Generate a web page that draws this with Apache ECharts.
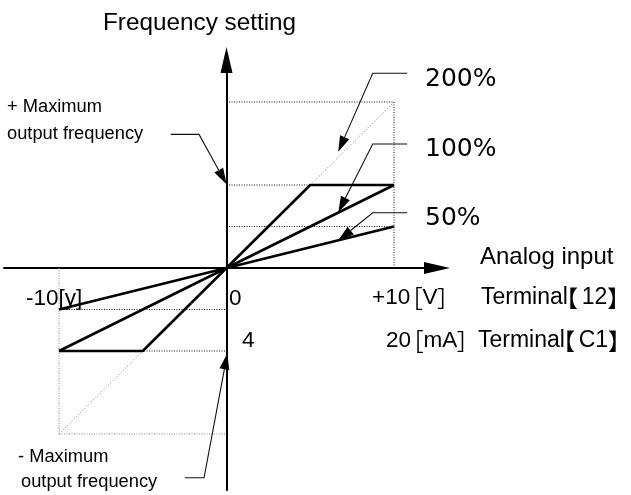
<!DOCTYPE html>
<html><head><meta charset="utf-8">
<script src="https://cdn.jsdelivr.net/npm/echarts/dist/echarts.min.js"></script>
<style>html,body{margin:0;padding:0;background:#fff}#c{width:631px;height:495px}</style>
</head><body><div id="c"></div>
<script>
// ---- data ----
const inputV = [-10, -5, 0, 5, 10];
const out200Raw = [-200, -100, 0, 100, 200];
const out200Clamped = [-100, -100, 0, 100, 100];
const out100 = [-100, -50, 0, 50, 100];
const out50 = [-50, -25, 0, 25, 50];
const posLevels = [200, 100, 50];
const negLevels = [-50, -100, -200];
const gainLabels = ['200%', '100%', '50%'];
const voltTicks = ['-10[y]', '0'];
const currentTicks = ['4'];
// leader lines for annotations: [x1,y1, x2,y2, tipX,tipY] in data units
const leaders = [
  [10.79, 234.6, 8.73, 234.6, 6.67, 140],
  [10.79, 149.4, 8.73, 149.4, 6.67, 67],
  [10.79, 66.6, 8.73, 66.6, 6.67, 33],
  [-3.33, 161, -1.64, 161, 0, 101],
  [-2.48, -252.7, -1.34, -252.7, 0.05, -103]
];

// ---- layout ----
const OX = 226.5, OY = 268, SX = 16.75, SY = 0.83;
const GL = 4, GR = 437, GT = 60, GB = 490;
const xMin = (GL - OX) / SX, xMax = (GR - OX) / SX;
const yMax = (OY - GT) / SY, yMin = (OY - GB) / SY;

const SANS = '"Liberation Sans", Arial, sans-serif';
const CJK = '"Noto Sans CJK JP", sans-serif';
const WIDE = '"DejaVu Sans", sans-serif';

const pairs = (xs, ys) => xs.map((x, i) => [x, ys[i]]);
const vMax = Math.max(...inputV), vMin = Math.min(...inputV);

const ctx = document.createElement('canvas').getContext('2d');
function tw(t, fam, fs) { ctx.font = fs + 'px ' + fam; return ctx.measureText(t).width; }
function txt(t, x, baseline, fam, fs) {
  return { type: 'text', x: x, y: baseline - 0.35 * fs, silent: true,
    style: { text: t, fontFamily: fam, fontSize: fs, fill: '#000', textAlign: 'left', textVerticalAlign: 'middle' } };
}
// pieces: [text, kind] kind: 's' sans, 'o'/'c' square bracket open/close, 'O'/'C' lenticular open/close
function row(x, baseline, fs, pieces) {
  const out = []; let cx = x;
  pieces.forEach(([t, k]) => {
    if (k === 's') { out.push(txt(t, cx, baseline, SANS, fs)); cx += tw(t, SANS, fs); }
    else if (k === 'o') { out.push(txt(t, cx - 0.44 * fs, baseline, CJK, fs)); cx += 0.55 * fs; }
    else if (k === 'c') { out.push(txt(t, cx - 0.02 * fs, baseline, CJK, fs)); cx += 0.5 * fs; }
    else if (k === 'O') { out.push(txt(t, cx - 0.56 * fs, baseline, CJK, fs)); cx += 0.6 * fs; }
    else { out.push(txt(t, cx, baseline, CJK, fs)); cx += 0.5 * fs; }
  });
  return out;
}

const dotted = (color) => ({ color: color, width: 1, type: [1, 1.5] });
const guideSeries = [];
posLevels.forEach(l => guideSeries.push([[0, l], [vMax, l]]));
guideSeries.push([[vMax, 0], [vMax, Math.max(...posLevels)]]);
negLevels.forEach(l => guideSeries.push([[vMin, l], [0, l]]));
guideSeries.push([[vMin, 0], [vMin, Math.min(...negLevels)]]);

const series = [];
guideSeries.forEach((d, i) => series.push({ type: 'line', data: d, symbol: 'none', silent: true, z: 1,
  lineStyle: dotted(i >= guideSeries.length - 2 ? '#888' : '#111') }));
series.push({ type: 'line', data: pairs(inputV, out200Raw), symbol: 'none', silent: true, z: 1,
  lineStyle: { color: '#888', width: 1, type: [1, 2] } });
[out200Clamped, out100, out50].forEach(ys => series.push({ type: 'line', data: pairs(inputV, ys), symbol: 'none',
  silent: true, z: 3, lineStyle: { color: '#000', width: 2.6 } }));
series.push({
  type: 'custom', coordinateSystem: 'cartesian2d', data: leaders, silent: true, z: 4,
  renderItem: (params, api) => {
    const p = [0, 1, 2].map(i => api.coord([api.value(2 * i), api.value(2 * i + 1)]));
    const a = p[1], b = p[2];
    const dx = b[0] - a[0], dy = b[1] - a[1], L = Math.hypot(dx, dy), ux = dx / L, uy = dy / L;
    const len = 16, hw = 5;
    const base = [b[0] - ux * len, b[1] - uy * len];
    return { type: 'group', children: [
      { type: 'polyline', shape: { points: [p[0], p[1], base] }, style: { stroke: '#111', lineWidth: 1.1, fill: null } },
      { type: 'polygon', shape: { points: [b, [base[0] - uy * hw, base[1] + ux * hw], [base[0] + uy * hw, base[1] - ux * hw]] }, style: { fill: '#000' } }
    ] };
  }
});

const graphics = [
  txt('Frequency setting', 103, 32, SANS, 24.3),
  txt('+ Maximum', 7, 113, SANS, 18.3),
  txt('output frequency', 7, 140, SANS, 18.3),
  txt(gainLabels[0], 425, 88, WIDE, 25),
  txt(gainLabels[1], 425, 158, WIDE, 25),
  txt(gainLabels[2], 425, 227, WIDE, 25),
  txt('Analog input', 480, 266, SANS, 24),
  txt(voltTicks[0], 26, 307, SANS, 22.5),
  txt(voltTicks[1], 229, 307, SANS, 22.5),
  txt(currentTicks[0], 242, 349, SANS, 22.5),
  txt('- Maximum', 18, 463, SANS, 18.3),
  txt('output frequency', 21, 488, SANS, 18.3),
  ...row(372, 306, 22.5, [['+10', 's'], ['［', 'o'], ['V', 's'], ['］', 'c']]),
  ...row(386, 349, 22.5, [['20', 's'], ['［', 'o'], ['mA', 's'], ['］', 'c']]),
  ...row(481, 306, 23, [['Terminal', 's'], ['【', 'O'], ['12', 's'], ['】', 'C']]),
  ...row(478, 349, 23, [['Terminal', 's'], ['【', 'O'], ['C1', 's'], ['】', 'C']])
];

const axisCommon = { axisTick: { show: false }, axisLabel: { show: false }, splitLine: { show: false } };
const chart = echarts.init(document.getElementById('c'), null, { renderer: 'canvas' });
chart.setOption({
  animation: false,
  backgroundColor: '#fff',
  grid: { left: GL, top: GT, width: GR - GL, height: GB - GT, containLabel: false },
  xAxis: Object.assign({ type: 'value', min: xMin, max: xMax,
    axisLine: { show: true, onZero: true, symbol: ['none', 'triangle'], symbolSize: [12, 26], lineStyle: { color: '#000', width: 2 } } }, axisCommon),
  yAxis: Object.assign({ type: 'value', min: yMin, max: yMax,
    axisLine: { show: true, onZero: true, symbol: ['none', 'triangle'], symbolSize: [12, 26], lineStyle: { color: '#000', width: 2 } } }, axisCommon),
  series: series,
  graphic: graphics
});
</script></body></html>
